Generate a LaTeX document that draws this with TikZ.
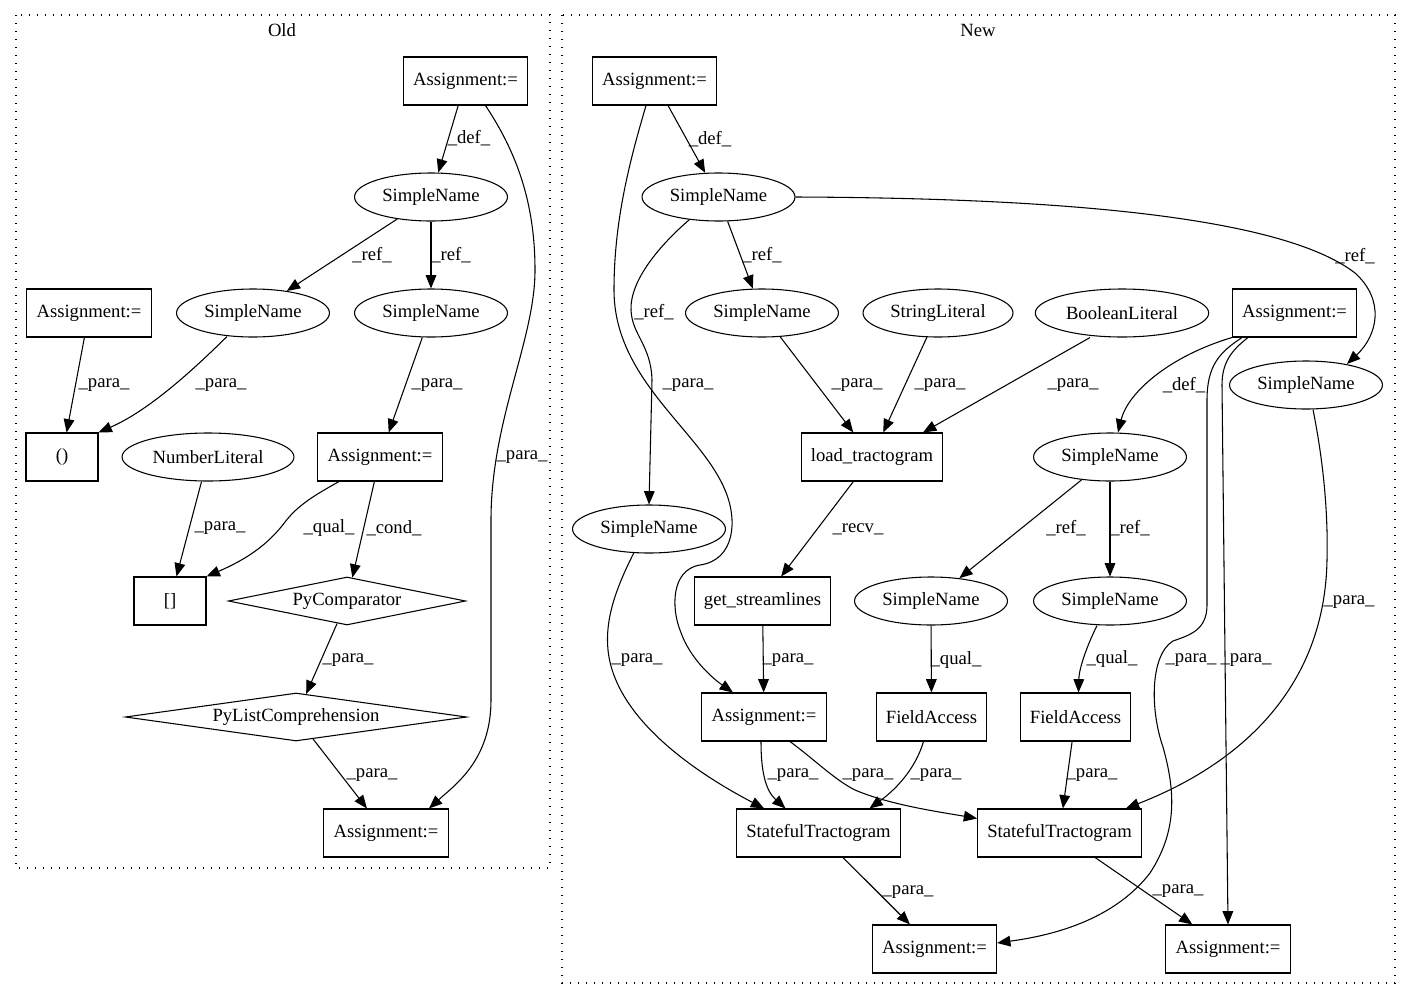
\documentclass[tikz,border=0pt]{standalone}
\usepackage{fontspec}
\setmainfont{Liberation Serif}
\usepackage{tikz}
\usetikzlibrary{arrows.meta,shapes.geometric,calc}

\tikzset{
  box/.style={draw, rectangle, minimum width=54pt, minimum height=36pt, inner xsep=7.2pt, inner ysep=0pt},
  oval/.style={draw, ellipse, minimum width=54pt, minimum height=36pt, inner xsep=4pt, inner ysep=0pt},
  dia/.style={draw, diamond, aspect=6, minimum height=36pt, inner sep=0pt},
  arr/.style={-{Triangle[length=10pt,width=8pt]}},
  lbl/.style={inner sep=0pt},
  cluster/.style={line width=1pt, dash pattern=on 1pt off 5pt}
}

\begin{document}
\begin{tikzpicture}[x=0.75pt, y=-0.75pt, line width=0.8pt,
    every node/.style={font=\fontsize{14}{16}\selectfont}]
    \useasboundingbox (0,0) rectangle (1411,1000);

    % clusters
    \draw[cluster] (16,15) rectangle (550,868);
    \node (tOld) at (282,30) {Old};
    \draw[cluster] (562,15) rectangle (1395,983);
    \node (tNew) at (978,30) {New};

    % Old
    \node[box]  (oA1)  at (465.5,81) {Assignment:=};
    \node[oval] (oSN1) at (431,197) {SimpleName};
    \node[box]  (oA2)  at (89,313) {Assignment:=};
    \node[oval] (oSN2) at (253,313) {SimpleName};
    \node[oval] (oSN3) at (431,313) {SimpleName};
    \node[box]  (oPar) at (62,457) {()};
    \node[oval] (oNum) at (208,457) {NumberLiteral};
    \node[box]  (oA3)  at (380,457) {Assignment:=};
    \node[box]  (oBr)  at (170,601) {[]};
    \node[dia, minimum width=178pt] (oCmp) at (347,601) {PyComparator};
    \node[dia, minimum width=256pt] (oLC)  at (296,717) {PyListComprehension};
    \node[box]  (oA4)  at (386,833) {Assignment:=};

    \draw[arr] (oA1) -- (oSN1) node[lbl] at (469,138) {\_def\_};
    \draw[arr] (oSN1) -- (oSN2) node[lbl] at (372,255) {\_ref\_};
    \draw[arr] (oSN1) -- (oSN3) node[lbl] at (451,255) {\_ref\_};
    \draw[arr] (oA2) -- (oPar) node[lbl] at (104,385) {\_para\_};
    \draw[arr] ($(oSN2.south)+(-26,-1)$) .. controls (195,368) and (150,410) .. (oPar.north east)
        node[lbl] at (221,385) {\_para\_};
    \draw[arr] (oSN3) -- (oA3) node[lbl] at (437,385) {\_para\_};
    \draw[arr] ($(oA1.south)+(20,0)$) .. controls (515,150) and (535,200) .. (535,270)
        .. controls (535,340) and (491,420) .. (491,520) -- (491,700)
        .. controls (491,760) and (455,785) .. ($(oA4.north)+(43,0)$)
        node[lbl] at (522,457) {\_para\_};
    \draw[arr] (oNum) -- (oBr) node[lbl] at (220,528) {\_para\_};
    \draw[arr] ($(oA3.south)+(-41,0)$) .. controls (315,495) and (298,505) .. (285,522)
        .. controls (268,545) and (245,560) .. (oBr.north east)
        node[lbl] at (329,528) {\_qual\_};
    \draw[arr] (oA3) -- (oCmp) node[lbl] at (394,528) {\_cond\_};
    \draw[arr] (oCmp) -- (oLC) node[lbl] at (348,660) {\_para\_};
    \draw[arr] (oLC) -- (oA4) node[lbl] at (372,775) {\_para\_};

    % New
    \node[box]  (nA1)  at (654.5,81) {Assignment:=};
    \node[oval] (nSN1) at (718.5,197) {SimpleName};
    \node[oval] (nSN2) at (762,313) {SimpleName};
    \node[oval] (nSL)  at (938,313) {StringLiteral};
    \node[oval] (nBL)  at (1122,313) {BooleanLiteral};
    \node[box]  (nA2)  at (1294.5,313) {Assignment:=};
    \node[oval] (nSN3) at (1306,385) {SimpleName};
    \node[box]  (nLT)  at (872,457) {load\_tractogram};
    \node[oval] (nSN4) at (1110,457) {SimpleName};
    \node[oval] (nSN5) at (649,529) {SimpleName};
    \node[box]  (nGS)  at (762.5,601) {get\_streamlines};
    \node[oval] (nSN6) at (931,601) {SimpleName};
    \node[oval] (nSN7) at (1110,601) {SimpleName};
    \node[box]  (nA3)  at (764,717) {Assignment:=};
    \node[box]  (nFA1) at (931.5,717) {FieldAccess};
    \node[box]  (nFA2) at (1075.5,717) {FieldAccess};
    \node[box]  (nST1) at (818.5,833) {StatefulTractogram};
    \node[box]  (nST2) at (1059.5,833) {StatefulTractogram};
    \node[box]  (nA4)  at (934.5,949) {Assignment:=};
    \node[box]  (nA5)  at (1228,949) {Assignment:=};

    \draw[arr] (nA1) -- (nSN1) node[lbl] at (710,139) {\_def\_};
    \draw[arr] ($(nA1.south)+(-8.5,0)$) .. controls (630,160) and (614,220) .. (614,290)
        .. controls (614,380) and (700,430) .. (725,490)
        .. controls (738,520) and (735,560) .. (700,565)
        .. controls (670,570) and (672,610) .. (680,630)
        .. controls (690,660) and (715,680) .. ($(nA3.north)+(-31,0)$)
        node[lbl] at (688,385) {\_para\_};
    \draw[arr] (nSN1) -- (nSN2) node[lbl] at (762,255) {\_ref\_};
    \draw[arr] ($(nSN1.south)+(-29,-2)$) .. controls (660,245) and (630,280) .. (631,310)
        .. controls (632,335) and (651,345) .. (652,380) -- (nSN5.north)
        node[lbl] at (654,312) {\_ref\_};
    \draw[arr] (nSN1.east) .. controls (1050,198) and (1280,215) .. (1355,273)
        .. controls (1385,300) and (1378,335) .. ($(nSN3.north)+(41,3.5)$)
        node[lbl] at (1355,256) {\_ref\_};
    \draw[arr] (nSN2) -- (nLT) node[lbl] at (857,385) {\_para\_};
    \draw[arr] (nSL) -- (nLT) node[lbl] at (940,385) {\_para\_};
    \draw[arr] ($(nBL.south)+(-32,0)$) -- ($(nLT.north)+(51,0)$) node[lbl] at (1073,385) {\_para\_};
    \draw[arr] (nA2.south west) .. controls (1170,356) and (1128,392) .. ($(nSN4.north)+(8,0)$)
        node[lbl] at (1184,385) {\_def\_};
    \draw[arr] ($(nA2.south)+(-52.5,0)$) .. controls (1220,352) and (1207,365) .. (1207,400)
        -- (1207,605)
        .. controls (1207,630) and (1190,635) .. (1173,641)
        .. controls (1150,655) and (1150,710) .. (1163,747)
        .. controls (1175,790) and (1178,830) .. (1150,873)
        .. controls (1110,925) and (1040,937) .. ($(nA4.east)+(0,-6)$)
        node[lbl] at (1191,660) {\_para\_};
    \draw[arr] ($(nA2.south)+(-46.5,0)$) .. controls (1232,350) and (1222,362) .. (1222,385)
        -- (nA5.north) node[lbl] at (1246,660) {\_para\_};
    \draw[arr] ($(nSN3.south)+(7,0)$) .. controls (1325,470) and (1328,520) .. (1327,560)
        .. controls (1325,680) and (1250,760) .. ($(nST2.north east)+(-16,0)$)
        node[lbl] at (1349,602) {\_para\_};
    \draw[arr] (nLT) -- (nGS) node[lbl] at (858,529) {\_recv\_};
    \draw[arr] (nSN4) -- (nSN6) node[lbl] at (1066,528) {\_ref\_};
    \draw[arr] (nSN4) -- (nSN7) node[lbl] at (1130,528) {\_ref\_};
    \draw[arr] ($(nSN5.south)+(-15,-1)$) .. controls (615,590) and (605,620) .. (608,650)
        .. controls (615,720) and (700,775) .. ($(nST1.north west)+(28,0)$)
        node[lbl] at (637,660) {\_para\_};
    \draw[arr] (nGS) -- (nA3) node[lbl] at (788,660) {\_para\_};
    \draw[arr] (nSN6) -- (nFA1) node[lbl] at (956,660) {\_qual\_};
    \draw[arr] ($(nSN7.south)+(-13,0)$) .. controls (1085,650) and (1079,670) .. ($(nFA2.north)+(3,0)$)
        node[lbl] at (1112,659) {\_qual\_};
    \draw[arr] ($(nA3.south)+(-3,0)$) .. controls (761,770) and (765,790) .. ($(nST1.north)+(-33,0)$)
        node[lbl] at (793,775) {\_para\_};
    \draw[arr] ($(nA3.south)+(26,0)$) .. controls (815,760) and (835,780) .. (855,790)
        .. controls (890,805) and (940,812) .. ($(nST2.north west)+(0,10)$)
        node[lbl] at (868,775) {\_para\_};
    \draw[arr] ($(nFA1.south)+(-8,0)$) .. controls (915,770) and (895,790) .. ($(nST1.north)+(51,0)$)
        node[lbl] at (936,775) {\_para\_};
    \draw[arr] (nFA2) -- (nST2) node[lbl] at (1092,775) {\_para\_};
    \draw[arr] (nST1) -- (nA4) node[lbl] at (908,892) {\_para\_};
    \draw[arr] (nST2) -- (nA5) node[lbl] at (1178,891) {\_para\_};
\end{tikzpicture}
\end{document}
